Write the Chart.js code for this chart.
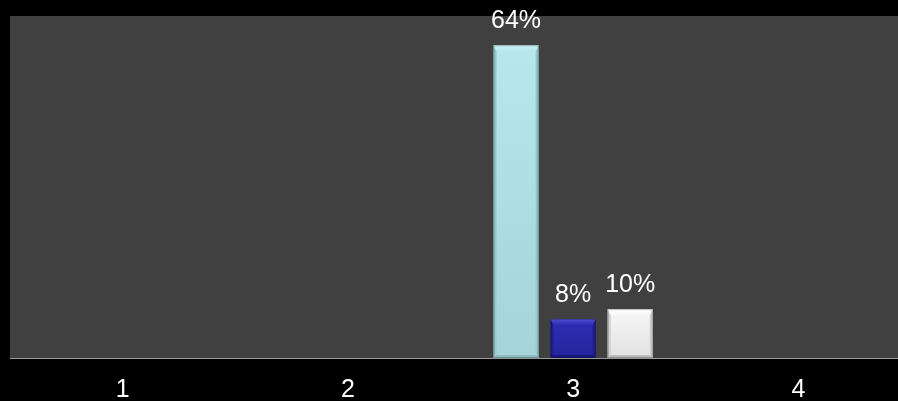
<!DOCTYPE html>
<html>
<head>
<meta charset="utf-8">
<script src="https://cdn.jsdelivr.net/npm/chart.js@4/dist/chart.umd.min.js"></script>
<style>
html,body{margin:0;padding:0;background:#000;overflow:hidden;width:898px;height:401px;}
#wrap{position:relative;width:912px;height:422px;}
</style>
</head>
<body>
<div id="wrap"><canvas id="c" width="912" height="422"></canvas></div>
<script>
const categories = ['1', '2', '3', '4'];
const seriesA = [null, null, 64, null];
const seriesB = [null, null, 8, null];
const seriesC = [null, null, 10, null];
const yMax = 70;

const faces = [
  {top:'#d0f6f8', body:['#b6e8ec','#a4d4d8'], side:'#98c8cc', bottom:'#8fbcc0'},
  {top:'#5050d0', body:['#2e2eb4','#24249e'], side:'#1e1e8c', bottom:'#18187c'},
  {top:'#ffffff', body:['#f6f6f6','#e2e2e2'], side:'#cfcfcf', bottom:'#bdbdbd'}
];

const bgPlugin = {
  id: 'plotBg',
  beforeDraw(chart) {
    const {ctx, chartArea: a} = chart;
    ctx.save();
    ctx.fillStyle = '#404040';
    ctx.fillRect(a.left, a.top, a.right - a.left, a.bottom - a.top);
    ctx.restore();
  }
};

const bevelPlugin = {
  id: 'bevel',
  afterDatasetsDraw(chart) {
    const ctx = chart.ctx;
    chart.data.datasets.forEach((ds, i) => {
      const meta = chart.getDatasetMeta(i);
      const f = faces[i];
      meta.data.forEach((el, j) => {
        if (ds.data[j] == null) return;
        const w = el.width, l = el.x - w/2, r = el.x + w/2, t = el.y, b = el.base;
        const bv = 6, sv = 3;
        ctx.save();
        const g = ctx.createLinearGradient(0, t, 0, b);
        g.addColorStop(0, f.body[0]); g.addColorStop(1, f.body[1]);
        ctx.fillStyle = g;
        ctx.fillRect(l, t, w, b - t);
        ctx.fillStyle = f.side;
        ctx.beginPath(); ctx.moveTo(l, t); ctx.lineTo(l+sv, t+bv); ctx.lineTo(l+sv, b-sv); ctx.lineTo(l, b); ctx.closePath(); ctx.fill();
        ctx.beginPath(); ctx.moveTo(r, t); ctx.lineTo(r-sv, t+bv); ctx.lineTo(r-sv, b-sv); ctx.lineTo(r, b); ctx.closePath(); ctx.fill();
        ctx.fillStyle = f.bottom;
        ctx.beginPath(); ctx.moveTo(l, b); ctx.lineTo(l+sv, b-sv); ctx.lineTo(r-sv, b-sv); ctx.lineTo(r, b); ctx.closePath(); ctx.fill();
        const tg = ctx.createLinearGradient(0, t, 0, t+bv);
        tg.addColorStop(0, f.top); tg.addColorStop(1, f.body[0]);
        ctx.fillStyle = tg;
        ctx.beginPath(); ctx.moveTo(l, t); ctx.lineTo(r, t); ctx.lineTo(r-sv, t+bv); ctx.lineTo(l+sv, t+bv); ctx.closePath(); ctx.fill();
        ctx.strokeStyle = 'rgba(0,0,0,0.25)'; ctx.lineWidth = 1;
        ctx.strokeRect(l+0.5, t+0.5, w-1, b-t-1);
        ctx.fillStyle = '#ffffff';
        ctx.font = '25px "Liberation Sans", Arial, sans-serif';
        ctx.textAlign = 'center';
        ctx.textBaseline = 'alphabetic';
        ctx.fillText(ds.data[j] + '%', el.x, t - 17);
        ctx.restore();
      });
    });
  }
};

new Chart(document.getElementById('c'), {
  type: 'bar',
  data: {
    labels: categories,
    datasets: [
      {label: 'A', data: seriesA, backgroundColor: 'rgba(0,0,0,0)'},
      {label: 'B', data: seriesB, backgroundColor: 'rgba(0,0,0,0)'},
      {label: 'C', data: seriesC, backgroundColor: 'rgba(0,0,0,0)'}
    ]
  },
  options: {
    responsive: false,
    animation: false,
    events: [],
    categoryPercentage: 0.76,
    barPercentage: 0.79,
    layout: {padding: {left: 10, right: 1, top: 16, bottom: 0}},
    plugins: {legend: {display: false}, tooltip: {enabled: false}},
    scales: {
      y: {display: false, min: 0, max: yMax},
      x: {
        grid: {display: false, drawTicks: false},
        border: {display: true, color: '#9a9a9a', width: 1},
        ticks: {color: '#ffffff', padding: 17, font: {family: '"Liberation Sans", Arial, sans-serif', size: 25}}
      }
    }
  },
  plugins: [bgPlugin, bevelPlugin]
});
</script>
</body>
</html>
